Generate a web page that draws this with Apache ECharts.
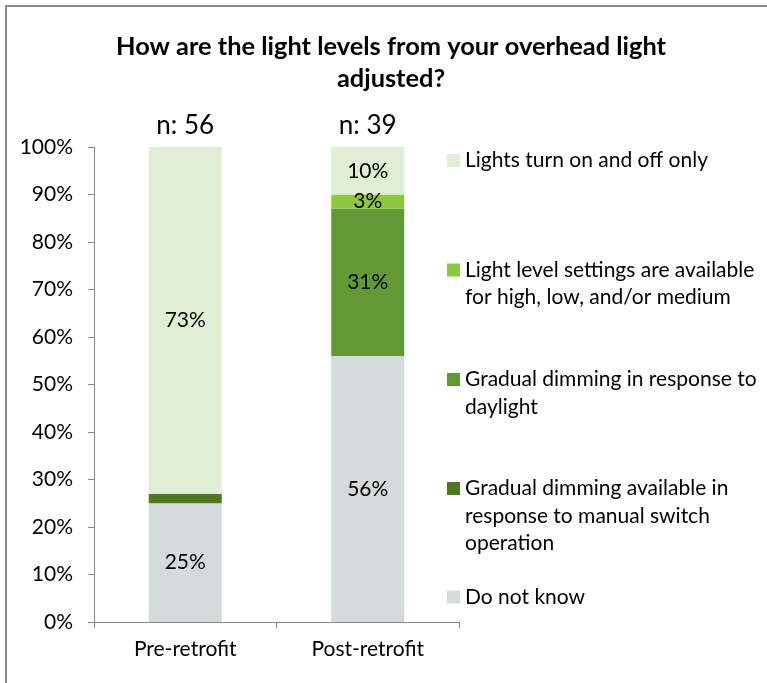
<!DOCTYPE html>
<html>
<head>
<meta charset="utf-8">
<script src="https://cdn.jsdelivr.net/npm/echarts@6/dist/echarts.min.js"></script>
<style>
  html, body { margin: 0; padding: 0; background: #fff; }
  #chart { width: 767px; height: 683px; }
</style>
</head>
<body>
<div id="chart"></div>
<script>
// ---- data ----
const categories = ['Pre-retrofit', 'Post-retrofit'];
const sampleSizes = ['n: 56', 'n: 39'];
const doNotKnow = [25, 56];
const manualDimming = [2, 0];
const daylightDimming = [0, 31];
const levelSettings = [0, 3];
const onOffOnly = [73, 10];
const yTicks = [0, 10, 20, 30, 40, 50, 60, 70, 80, 90, 100];

const seriesNames = [
  'Do not know',
  'Gradual dimming available in response to manual switch operation',
  'Gradual dimming in response to daylight',
  'Light level settings are available for high, low, and/or medium',
  'Lights turn on and off only'
];
const legendLines = [
  ['Do not know'],
  ['Gradual dimming available in', 'response to manual switch', 'operation'],
  ['Gradual dimming in response to', 'daylight'],
  ['Light level settings are available', 'for high, low, and/or medium'],
  ['Lights turn on and off only']
];
const seriesValues = [doNotKnow, manualDimming, daylightDimming, levelSettings, onOffOnly];
const seriesColors = ['#D5DADA', '#50781F', '#619A34', '#8FC73F', '#E0EED4'];
const showLabels = [true, false, true, true, true];

// ---- style ----
const FONT = 'Lato';
const TXT = '#000';
const AXIS = '#868686';
const LINE_H = 27.3;
const LEG_X = 447;
const LEG_ICON = 13;
const legendCenters = [597, 488.5, 379.5, 270, 160.5]; // first-line centres per series

const chart = echarts.init(document.getElementById('chart'));

const barSeries = seriesNames.map((name, i) => ({
  name: name,
  type: 'bar',
  stack: 'total',
  barWidth: 73,
  data: seriesValues[i],
  itemStyle: { color: seriesColors[i] },
  label: {
    show: showLabels[i],
    position: 'inside',
    fontFamily: FONT,
    fontSize: 21,
    color: TXT,
    formatter: p => (p.value > 0 ? p.value + '%' : '')
  },
  emphasis: { disabled: true },
  silent: true
}));

const nSeries = {
  type: 'scatter',
  data: sampleSizes.map(() => 100),
  symbolSize: 0,
  silent: true,
  itemStyle: { opacity: 1 },
  label: {
    show: true,
    position: 'top',
    distance: 8,
    fontFamily: FONT,
    fontSize: 26,
    color: TXT,
    opacity: 1,
    formatter: p => sampleSizes[p.dataIndex]
  },
  emphasis: { disabled: true },
  z: 5
};

// one legend per series, showing its first line; icon centred on that line
const legends = seriesNames.map((name, i) => ({
  data: [name],
  left: LEG_X,
  top: legendCenters[i] - LINE_H / 2,
  padding: 0,
  itemWidth: LEG_ICON,
  itemHeight: LEG_ICON,
  itemGap: 0,
  icon: 'rect',
  selectedMode: false,
  formatter: () => legendLines[i][0],
  textStyle: { fontFamily: FONT, fontSize: 21, color: TXT, lineHeight: LINE_H }
}));

// continuation lines of the wrapped legend labels
const legendExtra = [];
legendLines.forEach((lines, i) => {
  lines.slice(1).forEach((line, k) => {
    legendExtra.push({
      type: 'text',
      silent: true,
      style: {
        x: LEG_X + LEG_ICON + 5,
        y: legendCenters[i] + (k + 1) * LINE_H,
        text: line,
        verticalAlign: 'middle',
        align: 'left',
        fill: TXT,
        font: '21px ' + FONT
      }
    });
  });
});

chart.setOption({
  animation: false,
  backgroundColor: '#fff',
  title: {
    text: 'How are the light levels from your overhead light\nadjusted?',
    left: 391,
    top: 31,
    padding: 0,
    textAlign: 'center',
    textStyle: {
      fontFamily: FONT,
      fontWeight: 'bold',
      fontSize: 25.4,
      lineHeight: 32,
      color: TXT
    }
  },
  graphic: [{
    type: 'rect',
    silent: true,
    z: -10,
    shape: { x: 6, y: 6, width: 1000, height: 1000 },
    style: { fill: 'none', stroke: '#8a8a8a', lineWidth: 2 }
  }].concat(legendExtra),
  legend: legends,
  grid: { left: 94, right: 308, top: 147, bottom: 61, containLabel: false },
  xAxis: {
    type: 'category',
    data: categories,
    axisLine: { show: true, lineStyle: { color: AXIS, width: 1 } },
    axisTick: { show: true, length: 6, lineStyle: { color: AXIS } },
    axisLabel: { fontFamily: FONT, fontSize: 21, color: TXT, margin: 17 }
  },
  yAxis: {
    type: 'value',
    min: yTicks[0],
    max: yTicks[yTicks.length - 1],
    interval: yTicks[1] - yTicks[0],
    axisLine: { show: true, lineStyle: { color: AXIS, width: 1 } },
    axisTick: { show: true, length: 6, lineStyle: { color: AXIS } },
    splitLine: { show: false },
    axisLabel: { fontFamily: FONT, fontSize: 21, color: TXT, margin: 21, formatter: '{value}%' }
  },
  series: barSeries.concat([nSeries])
});
</script>
</body>
</html>
